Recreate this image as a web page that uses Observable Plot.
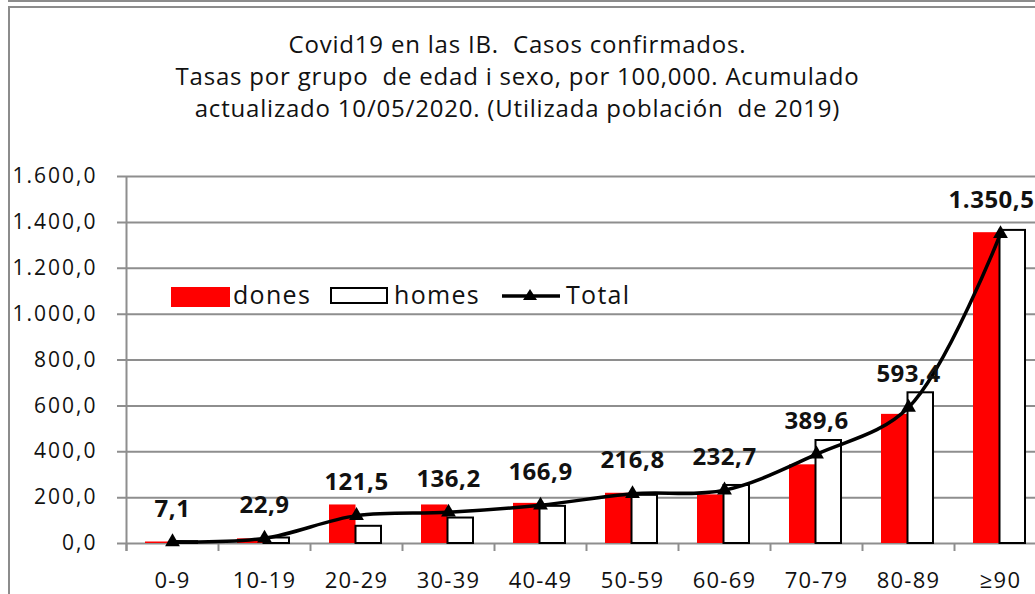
<!DOCTYPE html>
<html>
<head>
<meta charset="utf-8">
<script src="https://cdn.jsdelivr.net/npm/d3@7"></script>
<script src="https://cdn.jsdelivr.net/npm/@observablehq/plot@0.6"></script>
<style>
  body { margin: 0; background: #fff; font-family: "Open Sans", sans-serif; }
  #wrap { position: relative; width: 1035px; height: 594px; overflow: hidden; background: #fff; }
  #topline { position: absolute; left: 8px; top: 0; width: 1100px; border-top: 2px solid #8c8c8c; }
  #frame { position: absolute; left: 8px; top: 6px; width: 1100px; height: 700px; border-left: 2px solid #8c8c8c; border-top: 2px solid #8c8c8c; }
  #chart { position: absolute; left: 0; top: 0; }
  #title { position: absolute; left: 0; top: 28px; width: 1035px; text-align: center; font-size: 24px; line-height: 32px; letter-spacing: 0.8px; color: #111; white-space: pre; }
  .lg { position: absolute; }
  .lgt { position: absolute; font-size: 25px; line-height: 30px; letter-spacing: 1.3px; color: #111; top: 279px; }
  g[aria-label="y-axis tick label"] text { letter-spacing: 2px; }
  g[aria-label="x-axis tick label"] text { letter-spacing: 1.2px; }
  g[aria-label="text"] text { letter-spacing: 0.5px; }
</style>
</head>
<body>
<div id="wrap">
  <div id="topline"></div>
  <div id="frame"></div>
  <div id="chart"></div>
  <div id="title"></div>
  <div id="legend"></div>
</div>
<script>
const categories = ["0-9", "10-19", "20-29", "30-39", "40-49", "50-59", "60-69", "70-79", "80-89", "≥90"];
const dones = [6.5, 20.2, 168, 168, 175, 219, 212, 343, 563, 1355];
const homes = [7.7, 24, 75, 111, 162, 210, 253, 449, 657, 1365];
const total = [7.1, 22.9, 121.5, 136.2, 166.9, 216.8, 232.7, 389.6, 593.4, 1350.5];
const yTicks = [0, 200, 400, 600, 800, 1000, 1200, 1400, 1600];
const seriesNames = ["dones", "homes", "Total"];
const titleLines = [
  "Covid19 en las IB.  Casos confirmados.",
  "Tasas por grupo  de edad i sexo, por 100,000. Acumulado",
  "actualizado 10/05/2020. (Utilizada población  de 2019)"
];

const locale = d3.formatLocale({decimal: ",", thousands: ".", grouping: [3], currency: ["", "€"]});
const fmt = locale.format(",.1f");

const rows = categories.map((c, i) => ({cat: c, dones: dones[i], homes: homes[i], total: total[i], i}));
const grid = "#8e8e8e";

const chart = Plot.plot({
  width: 1035,
  height: 594,
  marginTop: 176,
  marginBottom: 51,
  marginLeft: 126,
  marginRight: -11,
  style: {fontFamily: "'Open Sans', sans-serif", color: "#111", background: "transparent"},
  x: {domain: categories, padding: 0, axis: null},
  y: {domain: [0, 1600], axis: null},
  marks: [
    Plot.ruleY(yTicks, {y: d => d, stroke: grid, strokeWidth: 2, insetLeft: -9}),
    Plot.ruleX(categories, {x: d => d, y1: 0, y2: 0, insetBottom: -8, dx: -46, stroke: grid, strokeWidth: 2}),
    Plot.ruleX([categories[0]], {x: d => d, y1: 1600, y2: 0, insetBottom: -8, dx: -46, stroke: grid, strokeWidth: 2}),
    Plot.barY(rows, {x: "cat", y: "dones", fill: "#ff0000", insetLeft: 19, insetRight: 46.5}),
    Plot.barY(rows, {x: "cat", y: "homes", fill: "#fff", stroke: "#000", strokeWidth: 2, insetLeft: 45.5, insetRight: 21}),
    Plot.line(rows, {x: "cat", y: "total", stroke: "#000", strokeWidth: 3.5, curve: "catmull-rom"}),
    Plot.dot(rows, {x: "cat", y: "total", symbol: "triangle", fill: "#000", r: 5.5}),
    Plot.text(rows.filter(d => d.i < 9), {x: "cat", y: "total", text: d => fmt(d.total), dy: -33, fontSize: 24, fontWeight: "bold", fill: "#111"}),
    Plot.text(rows.filter(d => d.i === 9), {x: "cat", y: "total", text: d => fmt(d.total), dy: -33, dx: -9, fontSize: 24, fontWeight: "bold", fill: "#111"}),
    Plot.axisY(yTicks, {tickSize: 0, tickPadding: 29, fontSize: 21, tickFormat: fmt, label: null}),
    Plot.axisX(categories, {tickSize: 0, tickPadding: 29, fontSize: 22, label: null})
  ]
});
document.getElementById("chart").appendChild(chart);

document.getElementById("title").textContent = titleLines.join("\n");

// legend
const lg = document.getElementById("legend");
function el(tag, cls, css, text) {
  const e = document.createElement(tag);
  e.className = cls;
  e.style.cssText = css;
  if (text) e.textContent = text;
  lg.appendChild(e);
  return e;
}
el("div", "lg", "left:171px;top:287px;width:59px;height:20px;background:#ff0000;");
el("div", "lgt", "left:233px;", seriesNames[0]);
el("div", "lg", "left:330px;top:287px;width:58px;height:17px;background:#fff;border:2px solid #000;box-sizing:border-box;");
el("div", "lgt", "left:394px;", seriesNames[1]);
const ls = document.createElementNS("http://www.w3.org/2000/svg", "svg");
ls.setAttribute("width", 60); ls.setAttribute("height", 20);
ls.style.cssText = "position:absolute;left:501px;top:286px;";
ls.innerHTML = '<line x1="1" y1="10" x2="59" y2="10" stroke="#000" stroke-width="3.5"/><path d="M29,3 L36,14 L22,14 Z" fill="#000"/>';
lg.appendChild(ls);
el("div", "lgt", "left:566px;", seriesNames[2]);
</script>
</body>
</html>
